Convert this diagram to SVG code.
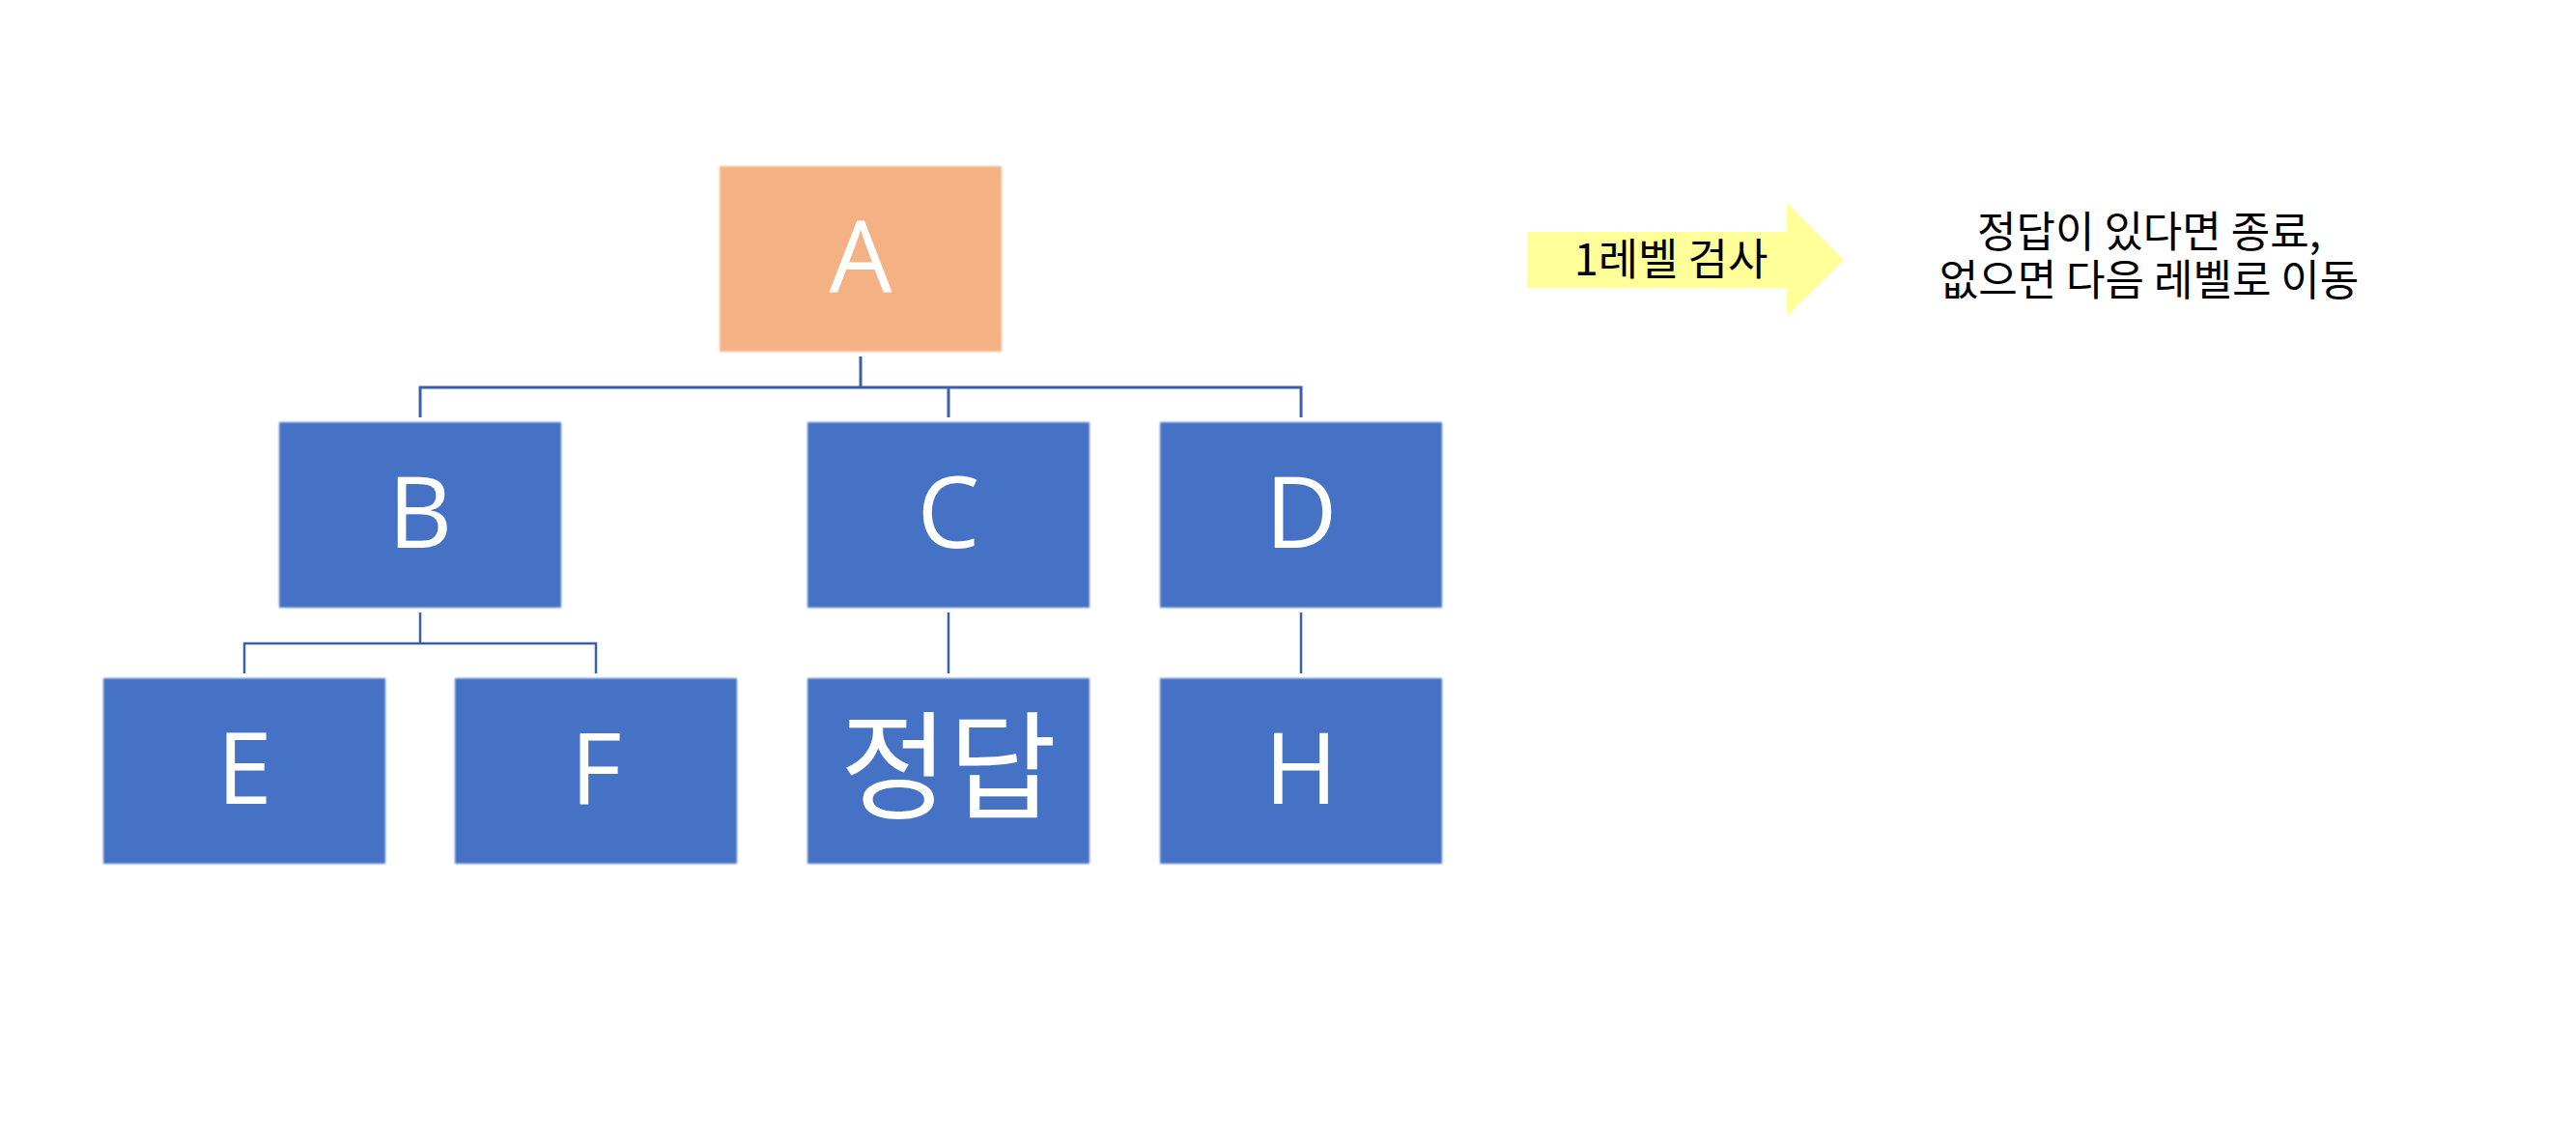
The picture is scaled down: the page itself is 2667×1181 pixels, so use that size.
<svg xmlns="http://www.w3.org/2000/svg" width="2667" height="1181" viewBox="0 0 2667 1181">
<style>
.box{fill:#4472C4;filter:url(#soft)}
.root{fill:#F4B183;filter:url(#soft)}
.lbl{font-family:"Open Sans","Noto Sans","Noto Sans CJK KR",sans-serif;font-size:103px;fill:#FFFFFF;text-anchor:middle}
.klbl{font-family:"Noto Sans CJK KR",sans-serif;font-size:122px;fill:#FFFFFF;text-anchor:middle}
.note{font-family:"Noto Sans CJK KR",sans-serif;font-size:44px;fill:#000000;text-anchor:middle}
.conn{fill:none;stroke:#3B5FA8;stroke-width:3}
.conn2{fill:none;stroke:#3B5FA8;stroke-width:2.5}
</style>
<defs>
<filter id="soft" x="-5%" y="-5%" width="110%" height="110%">
<feGaussianBlur stdDeviation="1.2"/>
</filter>
</defs>
<rect x="0" y="0" width="2667" height="1181" fill="#FFFFFF"/>
<g id="connectors">
<path class="conn" d="M891 369 V401 M435 432 V401 H1347 V432 M982 401 V432"/>
<path class="conn2" d="M435 634 V666 M253 697 V666 H617 V697"/>
<path class="conn2" d="M982 634 V697 M1347 634 V697"/>
</g>
<g id="node-A">
<rect class="root" x="745" y="172" width="292" height="192"/>
<text class="lbl" x="891" y="302">A</text>
</g>
<g id="node-B">
<rect class="box" x="289" y="437" width="292" height="192"/>
<text class="lbl" x="435" y="567">B</text>
</g>
<g id="node-C">
<rect class="box" x="836" y="437" width="292" height="192"/>
<text class="lbl" x="982" y="567">C</text>
</g>
<g id="node-D">
<rect class="box" x="1201" y="437" width="292" height="192"/>
<text class="lbl" x="1347" y="567">D</text>
</g>
<g id="node-E">
<rect class="box" x="107" y="702" width="292" height="192"/>
<text class="lbl" x="253" y="832">E</text>
</g>
<g id="node-F">
<rect class="box" x="471" y="702" width="292" height="192"/>
<text class="lbl" x="617" y="832">F</text>
</g>
<g id="node-answer">
<rect class="box" x="836" y="702" width="292" height="192"/>
<text class="klbl" x="982" y="838">정답</text>
</g>
<g id="node-H">
<rect class="box" x="1201" y="702" width="292" height="192"/>
<text class="lbl" x="1347" y="832">H</text>
</g>
<g id="level-arrow">
<polygon points="1581,240 1850,240 1850,210 1909,269 1850,327 1850,298 1581,298" fill="#FFFF99"/>
<text class="note" x="1730" y="285" style="font-size:45px">1레벨 검사</text>
</g>
<g id="note">
<text class="note" x="2225" y="256">정답이 있다면 종료,</text>
<text class="note" x="2225" y="306">없으면 다음 레벨로 이동</text>
</g>
</svg>
